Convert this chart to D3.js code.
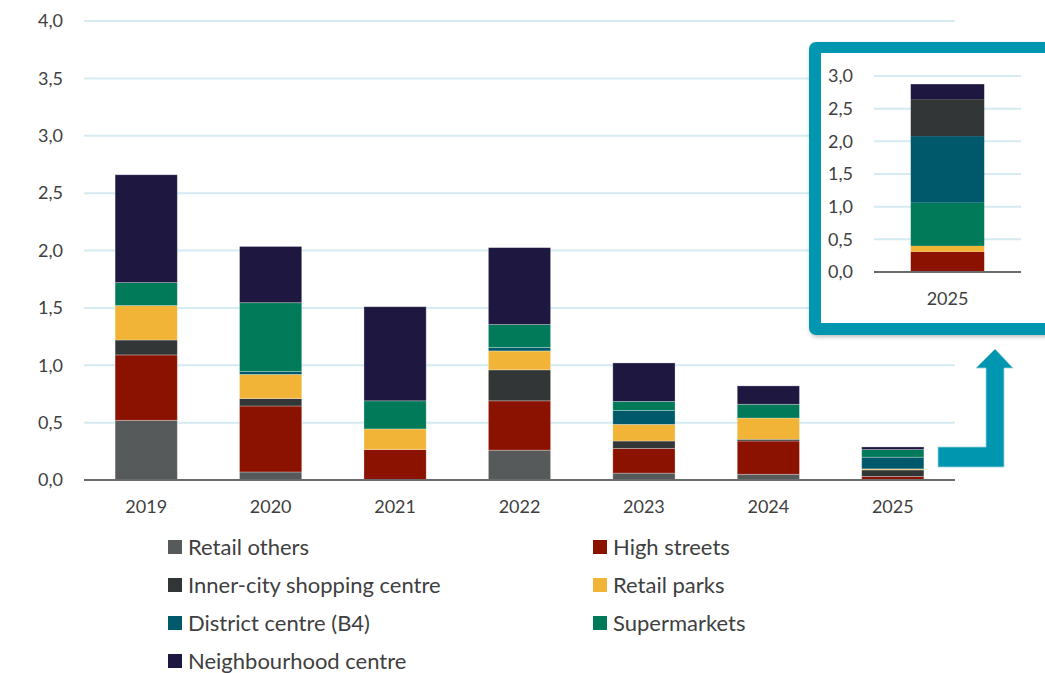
<!DOCTYPE html>
<html>
<head>
<meta charset="utf-8">
<title>Retail stacked bars</title>
<script src="https://d3js.org/d3.v7.min.js"></script>
<style>
body { margin: 0; padding: 0; background: #fff; font-family: Lato, "Noto Sans", sans-serif; }
svg text { fill: #404040; }
</style>
</head>
<body>
<svg id="chart" width="1045" height="673"></svg>
<script>
// data
var years = ['2019', '2020', '2021', '2022', '2023', '2024', '2025'];
var series = ['Retail others', 'High streets', 'Inner-city shopping centre', 'Retail parks',
              'District centre (B4)', 'Supermarkets', 'Neighbourhood centre'];
var colors = ['#575a5a', '#8c1200', '#333637', '#f1b436', '#00586b', '#007a58', '#1e1840'];

var retailOthers  = [0.52, 0.07, 0.005, 0.26, 0.06, 0.05, 0.0];
var highStreets   = [0.57, 0.575, 0.26, 0.43, 0.215, 0.29, 0.031];
var innerCity     = [0.13, 0.065, 0.0, 0.27, 0.065, 0.015, 0.057];
var retailParks   = [0.30, 0.21, 0.18, 0.165, 0.145, 0.185, 0.009];
var districtCentre= [0.0, 0.025, 0.0, 0.03, 0.12, 0.0, 0.102];
var supermarkets  = [0.20, 0.60, 0.245, 0.20, 0.08, 0.12, 0.066];
var neighbourhood = [0.94, 0.49, 0.82, 0.67, 0.335, 0.16, 0.023];

var yTicks = [0, 0.5, 1, 1.5, 2, 2.5, 3, 3.5, 4];

// inset: 2025 on its own scale, stacked in a different order
var insetYear = ['2025'];
var insetSeries = ['High streets', 'Retail parks', 'Supermarkets', 'District centre (B4)',
                   'Inner-city shopping centre', 'Neighbourhood centre'];
var insetValues = [0.31, 0.09, 0.66, 1.02, 0.565, 0.23];
var insetTicks = [0, 0.5, 1, 1.5, 2, 2.5, 3];

var svg = d3.select('#chart');
var fmt = function(d) { return d3.format('.1f')(d).replace('.', ','); };

var table = years.map(function(y, i) {
  return {
    year: y,
    'Retail others': retailOthers[i],
    'High streets': highStreets[i],
    'Inner-city shopping centre': innerCity[i],
    'Retail parks': retailParks[i],
    'District centre (B4)': districtCentre[i],
    'Supermarkets': supermarkets[i],
    'Neighbourhood centre': neighbourhood[i]
  };
});

var color = d3.scaleOrdinal().domain(series).range(colors);

// main plot
var x = d3.scaleBand().domain(years).range([84, 955]).paddingInner(0.5).paddingOuter(0.25);
var y = d3.scaleLinear().domain([0, 4]).range([480, 21]);

var grid = svg.append('g');
grid.selectAll('line').data(yTicks.slice(1)).join('line')
  .attr('x1', 84).attr('x2', 955)
  .attr('y1', function(d) { return y(d); }).attr('y2', function(d) { return y(d); })
  .attr('stroke', '#d3ebf1').attr('stroke-width', 2);

var yAxis = svg.append('g').attr('transform', 'translate(84,0)')
  .call(d3.axisLeft(y).tickValues(yTicks).tickFormat(fmt).tickSize(0).tickPadding(21));
yAxis.select('.domain').remove();
yAxis.selectAll('text').attr('font-size', 18).attr('font-family', 'Lato, sans-serif').attr('fill', '#404040');

var stack = d3.stack().keys(series);
var layers = stack(table);

svg.append('g').selectAll('g').data(layers).join('g')
  .attr('fill', function(d) { return color(d.key); })
  .selectAll('rect').data(function(d) { return d; }).join('rect')
  .attr('x', function(d) { return x(d.data.year); })
  .attr('width', x.bandwidth())
  .attr('y', function(d) { return y(d[1]); })
  .attr('height', function(d) { return Math.max(0, y(d[0]) - y(d[1])); })
  .attr('stroke', 'rgba(255,255,255,0.35)').attr('stroke-width', 0.8);

svg.append('line').attr('x1', 84).attr('x2', 955).attr('y1', y(0)).attr('y2', y(0))
  .attr('stroke', '#6b6b6b').attr('stroke-width', 2);

var xAxis = svg.append('g').attr('transform', 'translate(0,' + y(0) + ')')
  .call(d3.axisBottom(x).tickSize(0).tickPadding(20));
xAxis.select('.domain').remove();
xAxis.selectAll('text').attr('font-size', 18).attr('font-family', 'Lato, sans-serif').attr('fill', '#404040');

// legend
var legendPos = [[168, 547], [593, 547], [168, 585], [593, 585], [168, 623], [593, 623], [168, 661]];
var legend = svg.append('g').selectAll('g').data(series).join('g')
  .attr('transform', function(d, i) { return 'translate(' + legendPos[i][0] + ',' + legendPos[i][1] + ')'; });
legend.append('rect').attr('x', 0).attr('y', -7).attr('width', 14).attr('height', 14)
  .attr('fill', function(d) { return color(d); });
legend.append('text').attr('x', 20).attr('y', 0).attr('dy', '0.36em')
  .attr('font-size', 22).attr('font-family', 'Lato, sans-serif').attr('fill', '#404040')
  .text(function(d) { return d; });

// inset frame
var defs = svg.append('defs');
var sh = defs.append('filter').attr('id', 'shadow').attr('x', '-10%').attr('y', '-10%').attr('width', '130%').attr('height', '130%');
sh.append('feDropShadow').attr('dx', 1).attr('dy', 2).attr('stdDeviation', 2).attr('flood-color', '#000').attr('flood-opacity', 0.25);

svg.append('rect').attr('x', 809).attr('y', 42).attr('width', 260).attr('height', 293).attr('rx', 7)
  .attr('fill', '#0096b0').attr('filter', 'url(#shadow)');
svg.append('rect').attr('x', 821).attr('y', 53).attr('width', 240).attr('height', 270).attr('fill', '#fff');

var ix = d3.scaleBand().domain(insetYear).range([874, 1021]).paddingInner(0.5).paddingOuter(0.25);
var iy = d3.scaleLinear().domain([0, 3]).range([272, 76]);

svg.append('g').selectAll('line').data(insetTicks.slice(1)).join('line')
  .attr('x1', 874).attr('x2', 1021)
  .attr('y1', function(d) { return iy(d); }).attr('y2', function(d) { return iy(d); })
  .attr('stroke', '#d3ebf1').attr('stroke-width', 2);

var iyAxis = svg.append('g').attr('transform', 'translate(874,0)')
  .call(d3.axisLeft(iy).tickValues(insetTicks).tickFormat(fmt).tickSize(0).tickPadding(21));
iyAxis.select('.domain').remove();
iyAxis.selectAll('text').attr('font-size', 18).attr('font-family', 'Lato, sans-serif').attr('fill', '#404040');

var insetRow = { year: '2025' };
insetSeries.forEach(function(k, i) { insetRow[k] = insetValues[i]; });
var insetLayers = d3.stack().keys(insetSeries)([insetRow]);

svg.append('g').selectAll('rect').data(insetLayers).join('rect')
  .attr('fill', function(d) { return color(d.key); })
  .attr('x', ix('2025')).attr('width', ix.bandwidth())
  .attr('y', function(d) { return iy(d[0][1]); })
  .attr('height', function(d) { return iy(d[0][0]) - iy(d[0][1]); });

svg.append('line').attr('x1', 874).attr('x2', 1021).attr('y1', iy(0)).attr('y2', iy(0))
  .attr('stroke', '#6b6b6b').attr('stroke-width', 2);

var ixAxis = svg.append('g').attr('transform', 'translate(0,' + iy(0) + ')')
  .call(d3.axisBottom(ix).tickSize(0).tickPadding(20));
ixAxis.select('.domain').remove();
ixAxis.selectAll('text').attr('font-size', 18).attr('font-family', 'Lato, sans-serif').attr('fill', '#404040');

// arrow pointing up to inset
svg.append('path')
  .attr('d', 'M938,447 L986,447 L986,368 L976,368 L995,349 L1013,368 L1004,368 L1004,467 L938,467 Z')
  .attr('fill', '#0096b0').attr('stroke', '#9fd3de').attr('stroke-width', 0.8);
</script>
</body>
</html>
